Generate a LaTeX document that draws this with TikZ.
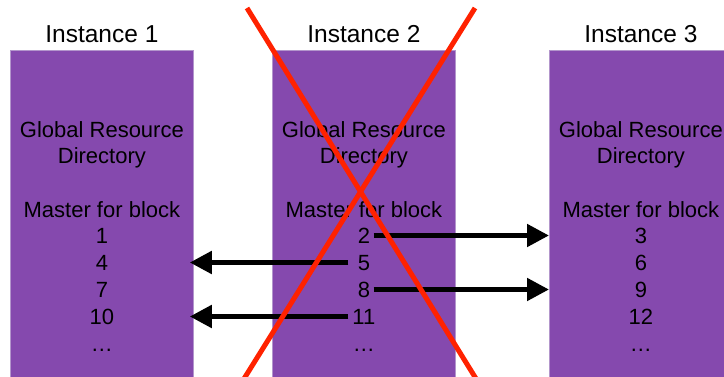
\documentclass[tikz,border=0pt]{standalone}
\usepackage{fontspec}
\setmainfont{Liberation Sans}
\usetikzlibrary{arrows.meta,calc}
\definecolor{boxpurple}{HTML}{8549AE}
\definecolor{boxedge}{HTML}{B396CC}
\definecolor{xred}{HTML}{FF2200}
\begin{document}
\begin{tikzpicture}[x=1pt,y=-1pt,
  inst/.style={draw=boxedge,line width=0.8pt,fill=boxpurple,minimum width=183pt,minimum height=340pt,anchor=north west,inner sep=0pt},
  title/.style={font=\fontsize{24.5}{29}\selectfont,anchor=base,inner sep=0pt},
  body/.style={font=\fontsize{22}{27}\selectfont,anchor=base,inner sep=0pt,text height=16pt,text depth=0pt},
  move/.style={line width=5pt,-{Triangle[length=22pt,width=22pt]}},
  cross/.style={draw=xred,line width=5pt}]
\useasboundingbox (0,0) rectangle (724,377);
\clip (0,0) rectangle (724,377);
\node[inst] (b1) at (10,50) {};
\node[inst] (b2) at (272,50) {};
\node[inst] (b3) at (549,50) {};
\node[title] (t1) at (b1.north |- 0,42.5) {Instance 1};
\node[title] (t2) at (b2.north |- 0,42.5) {Instance 2};
\node[title] (t3) at (b3.north |- 0,42.5) {Instance 3};
\foreach \k/\c in {1/b1,2/b2,3/b3} {
  \node[body] (g\k) at (\c.north |- 0,137.5) {Global Resource};
  \node[body] (d\k) at (\c.north |- 0,164) {Directory};
  \node[body] (m\k) at (\c.north |- 0,217.5) {Master for block};
  \foreach \r in {0,1,2,3} {
    \pgfmathtruncatemacro\num{\k+3*\r}
    \pgfmathsetmacro\yy{243.5+27*\r}
    \node[body] (n\num) at (\c.north |- 0,\yy) {\num};
  }
  \node[body] (e\k) at (\c.north |- 0,351.5) {…};
}
% moves of mastership
\coordinate (tail) at ($(n11.west)+(-4,0)$);
\draw[move] ($(n2.east)+(3.5,0)$) -- (n2.east -| b3.west);
\draw[move] ($(n8.east)+(3.5,0)$) -- (n8.east -| b3.west);
\draw[move] (n5.west -| tail) -- ($(n5.west -| b1.east)+(-4,0)$);
\draw[move] (tail) -- ($(n11.west -| b1.east)+(-4,0)$);
% red cross
\coordinate (xa) at (247,8);
\coordinate (xb) at (483,390);
\coordinate (xc) at (475,8);
\coordinate (xd) at (237,390);
\draw[cross] (xa) -- (xb);
\draw[cross] (xc) -- (xd);
\end{tikzpicture}
\end{document}
